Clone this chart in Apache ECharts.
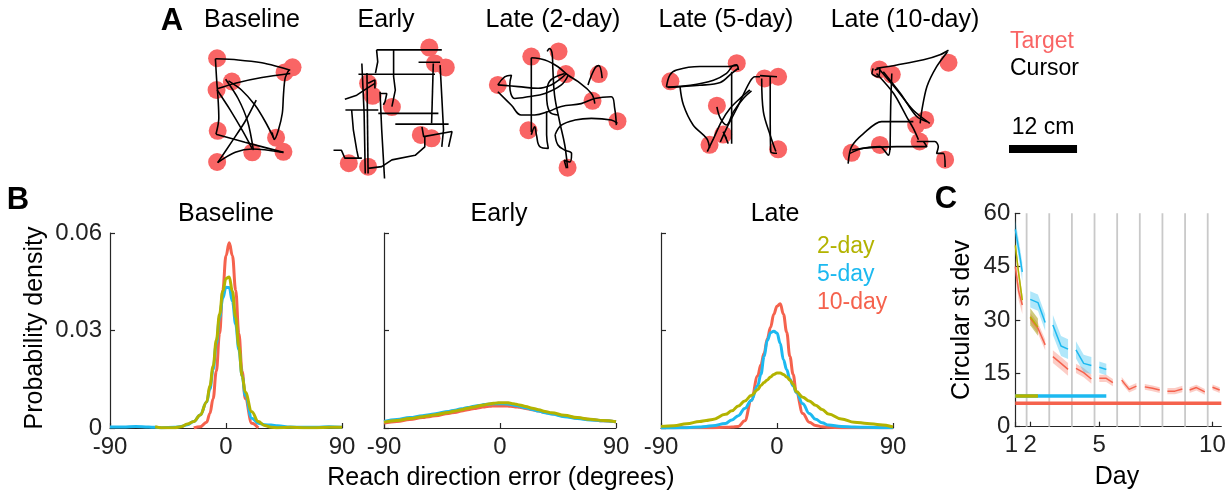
<!DOCTYPE html>
<html>
<head>
<meta charset="utf-8">
<title>Reach direction error</title>
<script src="https://cdn.jsdelivr.net/npm/echarts@6/dist/echarts.min.js"></script>
<style>
    html, body { margin: 0; padding: 0; background: #fff; }
    #chart { width: 1231px; height: 496px; }
</style>
</head>
<body>
<div id="chart"></div>
<script>
// colours / fonts
var OLIVE = '#b3b300', BLUE = '#1cb9f0', RED = '#f5624d', TARGET = '#f96565', INK = '#222';
var FONT = 'Liberation Sans, Arial, sans-serif';
var PX_PER_CM = 5.67;   // 12 cm scale bar is 68 px wide

// ---------- A: example trajectories (cm, y pointing down inside each box)
var panelTitles = ['Baseline', 'Early', 'Late (2-day)', 'Late (5-day)', 'Late (10-day)'];
var scaleBarCm = 12;

var baselineTargets = [[3.9,4.1],[17.2,5.7],[15.8,6.6],[6.5,8.2],[3.8,9.7],[4.0,16.9],[14.3,18.1],[10.1,20.7],[15.6,20.6],[3.9,22.4]];
var baselineCursor = [
    [[3.6,4.2],[7.6,4.4],[11.8,4.9],[14.7,5.6],[16.8,6.2]],
    [[16.8,6.8],[11.8,7.5],[7.1,8.5],[3.9,9.5]],
    [[16.6,6.1],[15.9,7.6],[15.6,10.6],[15.4,13.8],[14.7,16.8],[14.0,18.4],[13.6,17.2]],
    [[5.9,8.1],[8.2,9.7],[10.6,12.4],[12.4,15.3],[14.0,18.4]],
    [[3.6,4.2],[3.8,7.6],[4.1,11.8],[4.2,14.7],[3.7,17.5]],
    [[3.7,17.5],[8.8,18.9],[15.6,20.7]],
    [[3.9,9.7],[6.2,13.2],[8.5,17.1],[10.1,20.1]],
    [[5.4,7.8],[7.6,11.2],[9.3,15.3],[10.3,20.3]],
    [[4.0,22.5],[6.5,18.8],[8.8,15.3],[10.8,11.5]],
    [[4.0,22.5],[7.1,20.7],[10.1,20.1],[15.6,20.7]]
];

var earlyTargets = [[18.4,3.1],[19.4,5.9],[21.3,6.6],[7.6,9.4],[8.4,11.6],[11.8,13.6],[16.9,18.5],[18.8,19.1],[4.2,23.5],[7.6,24.1]];
var earlyCursor = [
    [[9.1,3.5],[20.6,3.5]],
    [[9.1,3.5],[9.3,5.6],[8.9,7.6]],
    [[12.1,3.5],[12.1,8.2],[12.4,10.6],[11.8,13.5]],
    [[5.9,7.8],[19.4,7.8]],
    [[16.5,5.7],[20.3,5.7]],
    [[19.1,5.9],[18.8,16.5]],
    [[20.3,6.2],[20.6,11.8],[20.9,17.6],[20.6,20.6]],
    [[6.5,5.9],[6.9,14.7],[7.1,25.3]],
    [[7.4,7.6],[7.6,25.3]],
    [[3.6,14.1],[9.4,14.1]],
    [[4.7,14.1],[5.0,17.6],[5.6,21.2],[5.9,22.6]],
    [[9.4,14.7],[20.0,14.7]],
    [[9.7,10.9],[10.0,17.6],[10.5,26.2]],
    [[12.4,16.6],[21.8,16.6]],
    [[17.1,17.1],[17.4,18.8],[22.4,17.9],[21.8,20.6]],
    [[17.6,18.8],[17.6,20.6],[15.9,22.1],[11.8,22.9],[10.0,24.1],[7.6,24.4]],
    [[1.5,21.2],[2.9,21.2],[3.5,22.6],[6.5,22.6]],
    [[3.5,12.2],[5.6,11.5],[7.4,10.3],[8.8,9.4]],
    [[7.6,9.4],[8.8,8.8],[8.8,10.3]],
    [[9.7,11.2],[10.9,11.2],[10.6,12.6],[10.3,13.2]]
];

var late2Targets = [[9.4,3.8],[14.2,2.9],[15.5,6.9],[21.3,6.9],[3.5,8.8],[20.2,11.6],[24.6,15.2],[8.9,16.8],[15.8,23.4]];
var late2Cursor = [
    [[9.4,4.0],[9.4,17.1]],
    [[9.4,4.0],[11.8,4.4],[14.1,5.6],[15.9,7.1],[17.6,8.2],[20.0,10.3],[20.6,12.1]],
    [[3.5,8.8],[4.7,7.4],[5.9,7.1],[5.6,8.8],[6.5,11.2],[8.8,10.9],[11.8,10.3],[14.7,8.8],[15.9,7.1]],
    [[3.5,8.8],[7.1,9.1],[10.6,9.4],[12.9,8.8],[14.7,7.6],[15.6,6.8]],
    [[3.5,10.0],[5.9,12.4],[7.6,14.1],[10.0,14.1],[12.4,13.5],[14.7,12.6],[18.2,12.1],[20.6,11.2],[23.5,10.9],[24.1,12.9],[24.4,15.9]],
    [[15.3,6.8],[12.6,8.2],[12.1,10.6],[12.6,13.5],[14.1,14.1]],
    [[12.2,2.9],[12.6,2.4],[13.1,3.5],[13.2,5.9],[13.5,10.6],[14.4,15.3],[15.3,19.4],[15.8,23.5]],
    [[12.1,13.5],[12.1,17.6],[12.4,20.0],[10.9,19.7],[10.3,17.6],[10.0,16.2],[9.4,17.6]],
    [[13.6,17.6],[14.7,15.9],[17.1,15.0],[20.0,14.7],[23.5,15.0],[24.6,15.6]],
    [[13.6,17.6],[14.1,19.4],[15.3,20.3],[16.5,20.9],[16.2,22.4],[15.2,22.1],[15.6,23.5]],
    [[19.4,8.8],[20.6,5.9],[21.3,5.4],[21.9,7.6]]
];

var late5Targets = [[3.6,6.4],[15.3,3.2],[20.2,5.9],[22.6,5.6],[11.8,10.7],[12.9,15.8],[10.5,17.6],[22.6,18.4]];
var late5Cursor = [
    [[2.9,7.4],[3.5,5.3],[4.7,4.4],[8.8,3.8],[13.5,3.8],[15.3,3.6],[15.6,4.4]],
    [[2.9,7.4],[7.1,7.1],[11.2,6.2],[13.5,5.0],[14.7,3.6],[15.4,3.5]],
    [[3.2,7.5],[8.8,7.1],[12.4,6.6],[14.4,5.0],[15.6,4.1]],
    [[14.4,4.7],[14.4,8.8],[14.4,17.4]],
    [[5.3,7.4],[5.9,10.6],[7.6,14.1],[10.0,16.5],[10.5,18.2]],
    [[10.1,18.8],[11.2,16.5],[12.6,13.5],[14.1,11.2],[15.9,9.4],[17.6,7.9]],
    [[11.8,10.9],[12.4,12.9],[13.5,14.1],[14.7,11.8],[16.5,9.4],[17.9,8.1]],
    [[12.4,17.1],[13.5,14.7],[15.3,11.2],[17.6,6.5],[18.5,5.6],[19.4,5.6]],
    [[19.4,5.4],[22.4,5.6]],
    [[21.2,5.6],[21.2,11.8],[21.3,18.8],[22.4,19.1]],
    [[19.7,5.9],[20.0,11.8],[21.2,15.9],[22.2,18.8]],
    [[13.5,16.5],[12.9,15.3],[13.8,17.4]]
];

var late10Targets = [[8.7,5.2],[10.9,6.1],[20.9,4.0],[16.8,14.1],[15.2,15.0],[15.8,17.9],[8.8,18.5],[3.8,19.9],[20.3,21.1]];
var late10Cursor = [
    [[8.2,5.0],[11.8,4.4],[16.5,3.5],[19.4,2.6],[20.9,1.8]],
    [[20.7,2.1],[18.8,4.7],[17.1,8.2],[16.2,12.4],[15.9,14.7]],
    [[7.6,5.0],[7.4,5.9],[8.5,6.5],[8.8,5.0],[7.9,5.3]],
    [[8.8,5.3],[11.8,8.8],[14.7,12.4],[17.6,14.7]],
    [[9.4,5.6],[12.4,9.4],[15.3,13.5],[17.1,14.4]],
    [[8.2,5.9],[11.2,9.4],[13.5,13.5],[14.7,15.6],[15.6,17.6]],
    [[10.9,5.9],[10.7,11.8],[10.6,19.4]],
    [[3.2,21.8],[3.8,18.8],[5.9,16.5],[9.1,14.4],[14.7,14.4]],
    [[3.5,20.0],[5.9,19.1],[11.8,18.8],[17.1,18.8],[16.5,17.9]],
    [[3.8,19.4],[8.8,18.8],[10.3,20.3],[10.6,18.8]],
    [[15.3,17.9],[18.5,17.9],[19.1,18.8],[18.8,20.0],[20.0,20.0],[20.3,22.4]]
];

// ---------- B: reach direction error densities
var errDeg = [-90,-80,-70,-60,-55,-50,-40,-35,-30,-25,-20,-15,-12.5,-10,-7.5,-5,-2.5,0,2.5,5,7.5,10,12.5,15,20,25,30,35,40,50,60,70,80,90];
var baseline2 = [null,null,null,null,0.0004,0.0001,0.0001,0.0004,0.0012,0.002,0.004,0.008,0.013,0.019,0.027,0.035,0.042,0.046,0.0465,0.042,0.034,0.025,0.016,0.011,0.005,0.002,0.0008,0.0002,0.0001,0.0002,0.0001,0.0001,0.0002,0.0002];
var baseline5 = [0.0003,0.0003,0.0005,0.0003,0.0002,0.0001,0.0002,0.0005,0.001,0.002,0.004,0.008,0.012,0.018,0.026,0.034,0.040,0.0433,0.0432,0.039,0.032,0.024,0.016,0.010,0.003,0.0015,0.001,0.0009,0.0007,0.0003,0.0002,0.0002,0.0004,0.0002];
var baseline10 = [null,null,null,null,null,null,null,null,null,0,0.0004,0.0018,0.0045,0.009,0.0175,0.029,0.0424,0.053,0.057,0.053,0.0424,0.029,0.0175,0.009,0.0015,0,null,null,null,null,null,null,null,null];
var early2 = [0.0018,0.0023,0.0029,0.0035,0.0038,0.0041,0.0048,0.0052,0.0056,0.0061,0.0065,0.0069,0.0071,0.0073,0.0075,0.0076,0.0077,0.0078,0.0078,0.0078,0.0077,0.0075,0.0073,0.0071,0.0066,0.0061,0.0056,0.0051,0.0047,0.0039,0.0032,0.0027,0.0023,0.0019];
var early5 = [0.0020,0.0026,0.0032,0.0038,0.0041,0.0044,0.0051,0.0055,0.0059,0.0063,0.0067,0.0070,0.0072,0.0073,0.0074,0.0075,0.0075,0.0075,0.0075,0.0074,0.0073,0.0071,0.0069,0.0067,0.0062,0.0057,0.0052,0.0047,0.0043,0.0035,0.0029,0.0025,0.0022,0.0019];
var early10 = [0.0015,0.0020,0.0026,0.0032,0.0035,0.0038,0.0045,0.0048,0.0052,0.0056,0.0060,0.0063,0.0065,0.0066,0.0067,0.0068,0.0068,0.0068,0.0068,0.0068,0.0067,0.0066,0.0065,0.0064,0.0060,0.0056,0.0052,0.0048,0.0044,0.0037,0.0031,0.0026,0.0022,0.0019];
var late2 = [0.0005,0.0007,0.0013,0.002,0.0023,0.0026,0.0042,0.0053,0.0068,0.0083,0.0100,0.0118,0.0131,0.0140,0.0148,0.0157,0.0165,0.0169,0.0169,0.0165,0.0157,0.0147,0.0135,0.0112,0.0095,0.0083,0.007,0.0057,0.0043,0.0028,0.0018,0.0014,0.001,0.0003];
var late5 = [0,0,0.0001,0.0003,0.0005,0.0007,0.0014,0.0025,0.0038,0.006,0.0085,0.013,0.0165,0.022,0.027,0.0293,0.0298,0.0292,0.026,0.021,0.018,0.015,0.013,0.011,0.0075,0.0045,0.0027,0.0016,0.0009,0.0005,0.0003,0.0002,0.0001,0.0001];
var late10 = [0.0001,0.0001,0.0001,0.0001,0.0001,0.0001,0.0002,0.0003,0.0005,0.0022,0.0085,0.016,0.0195,0.023,0.0275,0.031,0.035,0.0375,0.0382,0.035,0.0295,0.022,0.0165,0.011,0.0045,0.0018,0.0008,0.0004,0.0002,0.0001,0.0001,0.0001,0.0001,0.0001];

// ---------- C: circular st dev per session (x in day units, one segment per day)
var dayTickPos = [0, 0.66, 3.71, 8.71];
var dayTickLabels = ['1', '2', '5', '10'];
var dayBounds = [0.5, 1.5, 2.5, 3.5, 4.5, 5.5, 6.5, 7.5, 8.5];

var c2x = [[0, 0.15, 0.31], [0.66, 1.0]];
var c2mean = [[51, 43, 35.6], [30.9, 28.0]];
var c2band = [1.6, 2.4];
var c2base = 8.6;

var c5x = [[0, 0.15, 0.31], [0.66, 1.0, 1.32], [1.66, 2.02, 2.33], [2.68, 3.02, 3.36], [3.71, 4.02]];
var c5mean = [[55.5, 50, 43.5], [35.8, 34.9, 29.3], [28.6, 22.7, 21.8], [21.6, 17.8, 17.2], [16.7, 16.1]];
var c5band = [2.6, 2.3, 2.8, 2.4, 1.6];
var c5base = 8.6;

var c10x = [[0, 0.15, 0.31], [0.66, 1.0, 1.32], [1.66, 2.02, 2.33], [2.68, 3.02, 3.36], [3.71, 4.02, 4.31],
            [4.70, 5.03, 5.35], [5.72, 6.06, 6.38], [6.72, 7.05, 7.38], [7.7, 8.0, 8.37], [8.71, 9.03]];
var c10mean = [[45, 38, 34.2], [30.5, 27.7, 23], [19.7, 17.8, 16.1], [16.4, 15.2, 13.4], [13.6, 13.6, 12.4],
               [13.1, 10.5, 11.4], [11.2, 10.8, 10.3], [10.0, 10.0, 10.6], [10.3, 11.0, 9.8], [11.1, 10.3]];
var c10band = [2.5, 1.5, 1.8, 1.3, 1.0, 0.9, 0.8, 0.9, 0.8, 0.8];
var c10base = 6.6;

// ------------------------------------------------------------------
var chart = echarts.init(document.getElementById('chart'));
var grids = [], xAxes = [], yAxes = [], series = [];

function addGrid(box, xa, ya) {
    var gi = grids.length;
    grids.push({left: box[0], top: box[1], width: box[2], height: box[3], containLabel: false});
    xa.gridIndex = gi;
    ya.gridIndex = gi;
    xAxes.push(xa);
    yAxes.push(ya);
    return gi;
}

var axisCol = '#262626';
function plainAxis(extra) {
    var a = {
        type: 'value',
        axisLine: {show: true, onZero: false, lineStyle: {color: axisCol, width: 1.2}},
        axisTick: {show: true, inside: true, length: 5, lineStyle: {color: axisCol, width: 1.2}},
        axisLabel: {color: INK, fontSize: 24, fontFamily: FONT, margin: 7},
        splitLine: {show: false}
    };
    for (var k in extra) a[k] = extra[k];
    return a;
}

// A panels
var panelBoxes = [[195, 35, 115, 145], [325, 30, 140, 155], [478, 35, 150, 145], [650, 45, 145, 120], [830, 40, 135, 135]];
var panelTargets = [baselineTargets, earlyTargets, late2Targets, late5Targets, late10Targets];
var panelCursor = [baselineCursor, earlyCursor, late2Cursor, late5Cursor, late10Cursor];
var panelSmooth = [0.3, false, 0.4, 0.35, 0.3];

panelBoxes.forEach(function (b, i) {
    var gi = addGrid(b,
        {type: 'value', show: false, min: 0, max: b[2] / PX_PER_CM},
        {type: 'value', show: false, inverse: true, min: 0, max: b[3] / PX_PER_CM});
    series.push({
        type: 'scatter', name: 'Target', xAxisIndex: gi, yAxisIndex: gi, silent: true, z: 2,
        symbolSize: 18, itemStyle: {color: TARGET, opacity: 1}, data: panelTargets[i]
    });
    panelCursor[i].forEach(function (stroke) {
        series.push({
            type: 'line', name: 'Cursor', xAxisIndex: gi, yAxisIndex: gi, silent: true, z: 3,
            showSymbol: false, smooth: panelSmooth[i], lineStyle: {color: '#000', width: 1.6}, data: stroke
        });
    });
});

// scale bar, same cm scale as the A panels
var sb = addGrid([1009, 139, scaleBarCm * PX_PER_CM, 20],
    {type: 'value', show: false, min: 0, max: scaleBarCm},
    {type: 'value', show: false, min: -1, max: 1});
series.push({type: 'line', xAxisIndex: sb, yAxisIndex: sb, silent: true, showSymbol: false,
    lineStyle: {color: '#000', width: 8, cap: 'butt'}, data: [[0, 0], [scaleBarCm, 0]]});

// B panels
var bLefts = [110, 384, 661];
var bCurves = [[baseline10, baseline5, baseline2], [early10, early5, early2], [late10, late5, late2]];
var bNames = ['10-day', '5-day', '2-day'];
var bColors = [RED, BLUE, OLIVE];
bLefts.forEach(function (left, p) {
    var gi = addGrid([left, 233, 232, 195],
        plainAxis({min: -90, max: 90, interval: 90}),
        plainAxis({min: 0, max: 0.06, interval: 0.03,
            axisLabel: {show: p === 0, color: INK, fontSize: 24, fontFamily: FONT, margin: 8,
                formatter: function (v) { return v === 0 ? '0' : String(+v.toFixed(2)); }}}));
    bCurves[p].forEach(function (vals, k) {
        var pts = [];
        errDeg.forEach(function (x, j) { if (vals[j] !== null) pts.push([x, vals[j]]); });
        series.push({
            type: 'line', name: bNames[k], xAxisIndex: gi, yAxisIndex: gi, silent: true, z: 3 + k,
            showSymbol: false, smooth: 0.4, smoothMonotone: 'x',
            lineStyle: {color: bColors[k], width: 3}, itemStyle: {color: bColors[k]}, data: pts
        });
    });
});

// C panel
var cg = addGrid([1015.3, 213.3, 206, 213.4],
    plainAxis({min: 0, max: 9.1,
        axisTick: {show: true, inside: true, length: 5, customValues: dayTickPos, lineStyle: {color: axisCol, width: 1.2}},
        axisLabel: {color: INK, fontSize: 24, fontFamily: FONT, margin: 7, showMinLabel: true, customValues: dayTickPos,
            formatter: function (v) {
                var i = dayTickPos.indexOf(v);
                // first day label sits a little left of the axis start, as in the figure
                return i === 0 ? '{first|' + dayTickLabels[i] + '}' : dayTickLabels[i];
            },
            rich: {first: {fontSize: 24, fontFamily: FONT, color: INK, padding: [0, 8, 0, 0]}}}}),
    plainAxis({min: 0, max: 60, interval: 15, axisLabel: {color: INK, fontSize: 24, fontFamily: FONT, margin: 5}}));

dayBounds.forEach(function (u) {
    series.push({type: 'line', xAxisIndex: cg, yAxisIndex: cg, silent: true, z: 1, showSymbol: false,
        lineStyle: {color: '#c9c9c9', width: 1.8}, data: [[u, 0], [u, 60]]});
});

function bandSeries(name, xs, mean, band, fill) {
    return {
        type: 'custom', name: name, xAxisIndex: cg, yAxisIndex: cg, silent: true, z: 2,
        data: xs.map(function (seg, i) { return [seg[0], mean[i][0]]; }),
        encode: {x: 0, y: 1},
        renderItem: function (params, api) {
            var i = params.dataIndex, seg = xs[i], pts = [], j;
            for (j = 0; j < seg.length; j++) pts.push(api.coord([seg[j], mean[i][j] + band[i]]));
            for (j = seg.length - 1; j >= 0; j--) pts.push(api.coord([seg[j], mean[i][j] - band[i]]));
            return {type: 'polygon', shape: {points: pts}, style: {fill: fill}};
        }
    };
}
function meanSeries(name, xs, mean, color) {
    xs.forEach(function (seg, i) {
        series.push({type: 'line', name: name, xAxisIndex: cg, yAxisIndex: cg, silent: true, z: 4,
            showSymbol: false, lineStyle: {color: color, width: 1.5}, itemStyle: {color: color},
            data: seg.map(function (x, j) { return [x, mean[i][j]]; })});
    });
}
function baseSeries(name, level, xEnd, color, z) {
    series.push({type: 'line', name: name, xAxisIndex: cg, yAxisIndex: cg, silent: true, z: z,
        showSymbol: false, lineStyle: {color: color, width: 3.5}, itemStyle: {color: color},
        data: [[0, level], [xEnd, level]]});
}

series.push(bandSeries('10-day', c10x, c10mean, c10band, 'rgba(245,98,77,0.32)'));
series.push(bandSeries('5-day', c5x, c5mean, c5band, 'rgba(28,185,240,0.35)'));
series.push(bandSeries('2-day', c2x, c2mean, c2band, 'rgba(160,150,0,0.5)'));
meanSeries('10-day', c10x, c10mean, RED);
meanSeries('5-day', c5x, c5mean, BLUE);
meanSeries('2-day', c2x, c2mean, OLIVE);
baseSeries('10-day', c10base, 9.1, RED, 5);
baseSeries('5-day', c5base, c5x[c5x.length - 1].slice(-1)[0], BLUE, 5);
baseSeries('2-day', c2base, c2x[c2x.length - 1].slice(-1)[0], OLIVE, 6);

// free text
function label(text, x, y, size, opts) {
    opts = opts || {};
    return {
        type: 'text', x: x, y: y, rotation: opts.rot || 0, silent: true,
        style: {text: text, fill: opts.color || '#000', fontSize: size, fontFamily: FONT,
            fontWeight: opts.bold ? 'bold' : 'normal', align: opts.align || 'center', verticalAlign: 'middle'}
    };
}
var aTitleX = [252, 386, 553, 726, 905];
var texts = [
    label('A', 172, 21, 31, {bold: true}),
    label('B', 18, 200, 31, {bold: true}),
    label('C', 946, 199, 31, {bold: true}),
    label('Baseline', 226, 214, 25),
    label('Early', 499, 214, 25),
    label('Late', 775, 214, 25),
    label('Reach direction error (degrees)', 501, 478, 25),
    label('Probability density', 35, 328, 25, {rot: Math.PI / 2}),
    label('Circular st dev', 962, 320, 25, {rot: Math.PI / 2}),
    label('Day', 1117, 477, 25),
    label('12 cm', 1043, 128, 23)
];
panelTitles.forEach(function (t, i) { texts.push(label(t, aTitleX[i], 20, 25)); });

chart.setOption({
    animation: false,
    backgroundColor: '#fff',
    grid: grids,
    xAxis: xAxes,
    yAxis: yAxes,
    legend: [{
        data: [{name: '2-day', textStyle: {color: OLIVE}}, {name: '5-day', textStyle: {color: BLUE}}, {name: '10-day', textStyle: {color: RED}}],
        orient: 'vertical', left: 812, top: 235, padding: 0, icon: 'none', itemWidth: 0, itemHeight: 23, itemGap: 5,
        selectedMode: false, textStyle: {fontSize: 23, fontFamily: FONT}
    }, {
        data: [{name: 'Target', textStyle: {color: TARGET}}, {name: 'Cursor', textStyle: {color: '#000'}}],
        orient: 'vertical', left: 1005, top: 30, padding: 0, icon: 'none', itemWidth: 0, itemHeight: 23, itemGap: 4,
        selectedMode: false, textStyle: {fontSize: 23, fontFamily: FONT}
    }],
    graphic: texts,
    series: series
});
</script>
</body>
</html>
